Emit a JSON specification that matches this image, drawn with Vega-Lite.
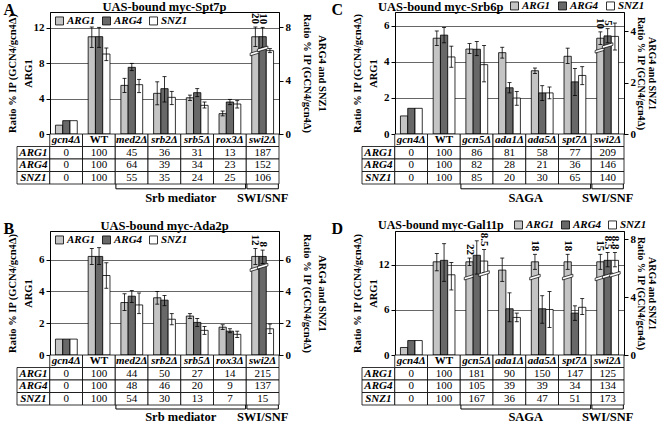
{
"$schema": "https://vega.github.io/schema/vega-lite/v6.json",
"padding": {"left": 3, "right": 0, "top": 0, "bottom": 0},
"background": "white",
"config": {
  "font": "Liberation Serif",
  "view": {"stroke": "black", "strokeWidth": 1},
  "title": {"fontSize": 12.5, "fontWeight": "bold", "color": "black", "frame": "group", "offset": -1},
  "axis": {"labelFontSize": 11, "labelFontWeight": "bold", "labelColor": "black", "tickColor": "black", "tickSize": 4, "labelPadding": 2, "domainColor": "black", "titleFontSize": 10.5, "titleFontWeight": "bold", "titleColor": "black", "titlePadding": 1, "gridColor": "#404040", "gridWidth": 0.8, "titleLineHeight": 16},
  "axisLeft": {"minExtent": 16, "maxExtent": 16},
  "axisRight": {"minExtent": 12, "maxExtent": 12, "titlePadding": 10, "titleLineHeight": 15},
  "legend": {"labelFontSize": 11, "labelFontWeight": "bold", "labelFontStyle": "italic", "labelColor": "black", "symbolType": "square", "symbolStrokeColor": "black", "symbolStrokeWidth": 0.8, "symbolSize": 64, "columnPadding": 4, "labelOffset": 2, "padding": 0},
  "concat": {"spacing": 10}
},
"datasets": {
"bars": [
{"p":"A","g":"ARG1","c":"gcn4Δ","v":1.0},
{"p":"A","g":"ARG1","c":"WT","v":11.0,"lo":9.8,"hi":12.1},
{"p":"A","g":"ARG1","c":"med2Δ","v":5.5,"lo":4.7,"hi":6.3},
{"p":"A","g":"ARG1","c":"srb2Δ","v":4.6,"lo":3.3,"hi":5.9},
{"p":"A","g":"ARG1","c":"srb5Δ","v":4.1,"lo":3.8,"hi":4.4},
{"p":"A","g":"ARG1","c":"rox3Δ","v":2.3,"lo":2.05,"hi":2.6},
{"p":"A","g":"ARG1","c":"swi2Δ","v":11.0,"lo":9.9,"hi":12.1,"brk":9.2,"lab":"20"},
{"p":"A","g":"ARG4","c":"gcn4Δ","v":1.0},
{"p":"A","g":"ARG4","c":"WT","v":7.3,"lo":6.5,"hi":8.0},
{"p":"A","g":"ARG4","c":"med2Δ","v":5.0,"lo":4.75,"hi":5.3},
{"p":"A","g":"ARG4","c":"srb2Δ","v":3.4,"lo":2.4,"hi":4.3},
{"p":"A","g":"ARG4","c":"srb5Δ","v":3.1,"lo":2.8,"hi":3.4},
{"p":"A","g":"ARG4","c":"rox3Δ","v":2.4,"lo":2.2,"hi":2.6},
{"p":"A","g":"ARG4","c":"swi2Δ","v":7.3,"lo":6.5,"hi":8.0,"brk":6.4,"lab":"10"},
{"p":"A","g":"SNZ1","c":"gcn4Δ","v":1.0},
{"p":"A","g":"SNZ1","c":"WT","v":6.0,"lo":5.5,"hi":6.45},
{"p":"A","g":"SNZ1","c":"med2Δ","v":3.7,"lo":3.1,"hi":4.1},
{"p":"A","g":"SNZ1","c":"srb2Δ","v":2.75,"lo":2.2,"hi":3.2},
{"p":"A","g":"SNZ1","c":"srb5Δ","v":2.15,"lo":1.95,"hi":2.4},
{"p":"A","g":"SNZ1","c":"rox3Δ","v":2.25,"lo":1.95,"hi":2.5},
{"p":"A","g":"SNZ1","c":"swi2Δ","v":6.25,"lo":6.1,"hi":6.4},
{"p":"B","g":"ARG1","c":"gcn4Δ","v":1.0},
{"p":"B","g":"ARG1","c":"WT","v":6.2,"lo":5.7,"hi":6.7},
{"p":"B","g":"ARG1","c":"med2Δ","v":3.3,"lo":2.8,"hi":3.85},
{"p":"B","g":"ARG1","c":"srb2Δ","v":3.6,"lo":3.2,"hi":4.0},
{"p":"B","g":"ARG1","c":"srb5Δ","v":2.45,"lo":2.3,"hi":2.6},
{"p":"B","g":"ARG1","c":"rox3Δ","v":1.75,"lo":1.6,"hi":1.9},
{"p":"B","g":"ARG1","c":"swi2Δ","v":6.2,"lo":5.7,"hi":6.7,"brk":5.45,"lab":"12"},
{"p":"B","g":"ARG4","c":"gcn4Δ","v":1.0},
{"p":"B","g":"ARG4","c":"WT","v":6.2,"lo":5.7,"hi":6.75},
{"p":"B","g":"ARG4","c":"med2Δ","v":3.7,"lo":3.3,"hi":4.05},
{"p":"B","g":"ARG4","c":"srb2Δ","v":3.45,"lo":3.1,"hi":3.75},
{"p":"B","g":"ARG4","c":"srb5Δ","v":2.05,"lo":1.8,"hi":2.3},
{"p":"B","g":"ARG4","c":"rox3Δ","v":1.5,"lo":1.4,"hi":1.65},
{"p":"B","g":"ARG4","c":"swi2Δ","v":6.2,"lo":5.75,"hi":6.6,"brk":5.6,"lab":"8"},
{"p":"B","g":"SNZ1","c":"gcn4Δ","v":1.0},
{"p":"B","g":"SNZ1","c":"WT","v":5.0,"lo":4.2,"hi":5.8},
{"p":"B","g":"SNZ1","c":"med2Δ","v":3.15,"lo":2.6,"hi":3.9},
{"p":"B","g":"SNZ1","c":"srb2Δ","v":2.25,"lo":1.9,"hi":2.6},
{"p":"B","g":"SNZ1","c":"srb5Δ","v":1.55,"lo":1.3,"hi":1.8},
{"p":"B","g":"SNZ1","c":"rox3Δ","v":1.3,"lo":1.1,"hi":1.5},
{"p":"B","g":"SNZ1","c":"swi2Δ","v":1.65,"lo":1.35,"hi":1.95},
{"p":"C","g":"ARG1","c":"gcn4Δ","v":1.0},
{"p":"C","g":"ARG1","c":"WT","v":5.3,"lo":4.9,"hi":5.7},
{"p":"C","g":"ARG1","c":"gcn5Δ","v":4.7,"lo":4.45,"hi":5.0},
{"p":"C","g":"ARG1","c":"ada1Δ","v":4.5,"lo":4.2,"hi":4.8},
{"p":"C","g":"ARG1","c":"ada5Δ","v":3.5,"lo":3.35,"hi":3.65},
{"p":"C","g":"ARG1","c":"spt7Δ","v":4.3,"lo":3.9,"hi":4.75},
{"p":"C","g":"ARG1","c":"swi2Δ","v":5.3,"lo":4.95,"hi":5.65,"brk":4.65,"lab":"10"},
{"p":"C","g":"ARG4","c":"gcn4Δ","v":1.0},
{"p":"C","g":"ARG4","c":"WT","v":3.85,"lo":3.55,"hi":4.15},
{"p":"C","g":"ARG4","c":"gcn5Δ","v":3.3,"lo":3.05,"hi":3.6},
{"p":"C","g":"ARG4","c":"ada1Δ","v":1.8,"lo":1.6,"hi":2.0},
{"p":"C","g":"ARG4","c":"ada5Δ","v":1.6,"lo":1.3,"hi":1.88},
{"p":"C","g":"ARG4","c":"spt7Δ","v":2.03,"lo":1.5,"hi":2.55},
{"p":"C","g":"ARG4","c":"swi2Δ","v":3.82,"lo":3.55,"hi":4.1,"brk":3.45,"lab":"5"},
{"p":"C","g":"SNZ1","c":"gcn4Δ","v":1.0},
{"p":"C","g":"SNZ1","c":"WT","v":3.0,"lo":2.6,"hi":3.42},
{"p":"C","g":"SNZ1","c":"gcn5Δ","v":2.7,"lo":2.03,"hi":3.45},
{"p":"C","g":"SNZ1","c":"ada1Δ","v":1.4,"lo":1.12,"hi":1.65},
{"p":"C","g":"SNZ1","c":"ada5Δ","v":1.6,"lo":1.37,"hi":1.83},
{"p":"C","g":"SNZ1","c":"spt7Δ","v":2.28,"lo":1.92,"hi":2.62},
{"p":"C","g":"SNZ1","c":"swi2Δ","v":3.8,"lo":3.27,"hi":4.32},
{"p":"D","g":"ARG1","c":"gcn4Δ","v":1.0},
{"p":"D","g":"ARG1","c":"WT","v":12.4,"lo":11.2,"hi":13.5},
{"p":"D","g":"ARG1","c":"gcn5Δ","v":12.4,"lo":11.9,"hi":12.9,"brk":10.4,"lab":"22"},
{"p":"D","g":"ARG1","c":"ada1Δ","v":11.3,"lo":9.8,"hi":12.9},
{"p":"D","g":"ARG1","c":"ada5Δ","v":12.4,"lo":11.4,"hi":13.4,"brk":10.4,"lab":"18"},
{"p":"D","g":"ARG1","c":"spt7Δ","v":12.4,"lo":11.4,"hi":13.4,"brk":10.4,"lab":"18"},
{"p":"D","g":"ARG1","c":"swi2Δ","v":12.4,"lo":11.4,"hi":13.4,"brk":10.3,"lab":"15"},
{"p":"D","g":"ARG4","c":"gcn4Δ","v":1.0},
{"p":"D","g":"ARG4","c":"WT","v":6.55,"lo":5.1,"hi":7.7},
{"p":"D","g":"ARG4","c":"gcn5Δ","v":6.9,"lo":5.6,"hi":7.9},
{"p":"D","g":"ARG4","c":"ada1Δ","v":3.2,"lo":2.3,"hi":4.3},
{"p":"D","g":"ARG4","c":"ada5Δ","v":3.2,"lo":2.2,"hi":4.1},
{"p":"D","g":"ARG4","c":"spt7Δ","v":2.9,"lo":2.4,"hi":3.4},
{"p":"D","g":"ARG4","c":"swi2Δ","v":6.55,"lo":6.1,"hi":7.1,"brk":5.5,"lab":"8.5"},
{"p":"D","g":"SNZ1","c":"gcn4Δ","v":1.0},
{"p":"D","g":"SNZ1","c":"WT","v":5.55,"lo":4.5,"hi":6.4},
{"p":"D","g":"SNZ1","c":"gcn5Δ","v":6.5,"lo":5.7,"hi":7.3,"brk":5.65,"lab":"8.5"},
{"p":"D","g":"SNZ1","c":"ada1Δ","v":2.6,"lo":2.3,"hi":2.9},
{"p":"D","g":"SNZ1","c":"ada5Δ","v":3.15,"lo":1.9,"hi":4.4},
{"p":"D","g":"SNZ1","c":"spt7Δ","v":3.3,"lo":2.8,"hi":3.9},
{"p":"D","g":"SNZ1","c":"swi2Δ","v":6.55,"lo":6.1,"hi":7.1,"brk":5.6,"lab":"8.8"}
],
"table": [
{"p":"A","c":"gcn4Δ","r":"hdr","t":"gcn4Δ"},{"p":"A","c":"WT","r":"hdr","t":"WT"},{"p":"A","c":"med2Δ","r":"hdr","t":"med2Δ"},{"p":"A","c":"srb2Δ","r":"hdr","t":"srb2Δ"},{"p":"A","c":"srb5Δ","r":"hdr","t":"srb5Δ"},{"p":"A","c":"rox3Δ","r":"hdr","t":"rox3Δ"},{"p":"A","c":"swi2Δ","r":"hdr","t":"swi2Δ"},
{"p":"A","c":"_lab","r":"ARG1","t":"ARG1"},{"p":"A","c":"gcn4Δ","r":"ARG1","t":"0"},{"p":"A","c":"WT","r":"ARG1","t":"100"},{"p":"A","c":"med2Δ","r":"ARG1","t":"45"},{"p":"A","c":"srb2Δ","r":"ARG1","t":"36"},{"p":"A","c":"srb5Δ","r":"ARG1","t":"31"},{"p":"A","c":"rox3Δ","r":"ARG1","t":"13"},{"p":"A","c":"swi2Δ","r":"ARG1","t":"187"},
{"p":"A","c":"_lab","r":"ARG4","t":"ARG4"},{"p":"A","c":"gcn4Δ","r":"ARG4","t":"0"},{"p":"A","c":"WT","r":"ARG4","t":"100"},{"p":"A","c":"med2Δ","r":"ARG4","t":"64"},{"p":"A","c":"srb2Δ","r":"ARG4","t":"39"},{"p":"A","c":"srb5Δ","r":"ARG4","t":"34"},{"p":"A","c":"rox3Δ","r":"ARG4","t":"23"},{"p":"A","c":"swi2Δ","r":"ARG4","t":"152"},
{"p":"A","c":"_lab","r":"SNZ1","t":"SNZ1"},{"p":"A","c":"gcn4Δ","r":"SNZ1","t":"0"},{"p":"A","c":"WT","r":"SNZ1","t":"100"},{"p":"A","c":"med2Δ","r":"SNZ1","t":"55"},{"p":"A","c":"srb2Δ","r":"SNZ1","t":"35"},{"p":"A","c":"srb5Δ","r":"SNZ1","t":"24"},{"p":"A","c":"rox3Δ","r":"SNZ1","t":"25"},{"p":"A","c":"swi2Δ","r":"SNZ1","t":"106"},
{"p":"B","c":"gcn4Δ","r":"hdr","t":"gcn4Δ"},{"p":"B","c":"WT","r":"hdr","t":"WT"},{"p":"B","c":"med2Δ","r":"hdr","t":"med2Δ"},{"p":"B","c":"srb2Δ","r":"hdr","t":"srb2Δ"},{"p":"B","c":"srb5Δ","r":"hdr","t":"srb5Δ"},{"p":"B","c":"rox3Δ","r":"hdr","t":"rox3Δ"},{"p":"B","c":"swi2Δ","r":"hdr","t":"swi2Δ"},
{"p":"B","c":"_lab","r":"ARG1","t":"ARG1"},{"p":"B","c":"gcn4Δ","r":"ARG1","t":"0"},{"p":"B","c":"WT","r":"ARG1","t":"100"},{"p":"B","c":"med2Δ","r":"ARG1","t":"44"},{"p":"B","c":"srb2Δ","r":"ARG1","t":"50"},{"p":"B","c":"srb5Δ","r":"ARG1","t":"27"},{"p":"B","c":"rox3Δ","r":"ARG1","t":"14"},{"p":"B","c":"swi2Δ","r":"ARG1","t":"215"},
{"p":"B","c":"_lab","r":"ARG4","t":"ARG4"},{"p":"B","c":"gcn4Δ","r":"ARG4","t":"0"},{"p":"B","c":"WT","r":"ARG4","t":"100"},{"p":"B","c":"med2Δ","r":"ARG4","t":"48"},{"p":"B","c":"srb2Δ","r":"ARG4","t":"46"},{"p":"B","c":"srb5Δ","r":"ARG4","t":"20"},{"p":"B","c":"rox3Δ","r":"ARG4","t":"9"},{"p":"B","c":"swi2Δ","r":"ARG4","t":"137"},
{"p":"B","c":"_lab","r":"SNZ1","t":"SNZ1"},{"p":"B","c":"gcn4Δ","r":"SNZ1","t":"0"},{"p":"B","c":"WT","r":"SNZ1","t":"100"},{"p":"B","c":"med2Δ","r":"SNZ1","t":"54"},{"p":"B","c":"srb2Δ","r":"SNZ1","t":"30"},{"p":"B","c":"srb5Δ","r":"SNZ1","t":"13"},{"p":"B","c":"rox3Δ","r":"SNZ1","t":"7"},{"p":"B","c":"swi2Δ","r":"SNZ1","t":"15"},
{"p":"C","c":"gcn4Δ","r":"hdr","t":"gcn4Δ"},{"p":"C","c":"WT","r":"hdr","t":"WT"},{"p":"C","c":"gcn5Δ","r":"hdr","t":"gcn5Δ"},{"p":"C","c":"ada1Δ","r":"hdr","t":"ada1Δ"},{"p":"C","c":"ada5Δ","r":"hdr","t":"ada5Δ"},{"p":"C","c":"spt7Δ","r":"hdr","t":"spt7Δ"},{"p":"C","c":"swi2Δ","r":"hdr","t":"swi2Δ"},
{"p":"C","c":"_lab","r":"ARG1","t":"ARG1"},{"p":"C","c":"gcn4Δ","r":"ARG1","t":"0"},{"p":"C","c":"WT","r":"ARG1","t":"100"},{"p":"C","c":"gcn5Δ","r":"ARG1","t":"86"},{"p":"C","c":"ada1Δ","r":"ARG1","t":"81"},{"p":"C","c":"ada5Δ","r":"ARG1","t":"58"},{"p":"C","c":"spt7Δ","r":"ARG1","t":"77"},{"p":"C","c":"swi2Δ","r":"ARG1","t":"209"},
{"p":"C","c":"_lab","r":"ARG4","t":"ARG4"},{"p":"C","c":"gcn4Δ","r":"ARG4","t":"0"},{"p":"C","c":"WT","r":"ARG4","t":"100"},{"p":"C","c":"gcn5Δ","r":"ARG4","t":"82"},{"p":"C","c":"ada1Δ","r":"ARG4","t":"28"},{"p":"C","c":"ada5Δ","r":"ARG4","t":"21"},{"p":"C","c":"spt7Δ","r":"ARG4","t":"36"},{"p":"C","c":"swi2Δ","r":"ARG4","t":"146"},
{"p":"C","c":"_lab","r":"SNZ1","t":"SNZ1"},{"p":"C","c":"gcn4Δ","r":"SNZ1","t":"0"},{"p":"C","c":"WT","r":"SNZ1","t":"100"},{"p":"C","c":"gcn5Δ","r":"SNZ1","t":"85"},{"p":"C","c":"ada1Δ","r":"SNZ1","t":"20"},{"p":"C","c":"ada5Δ","r":"SNZ1","t":"30"},{"p":"C","c":"spt7Δ","r":"SNZ1","t":"65"},{"p":"C","c":"swi2Δ","r":"SNZ1","t":"140"},
{"p":"D","c":"gcn4Δ","r":"hdr","t":"gcn4Δ"},{"p":"D","c":"WT","r":"hdr","t":"WT"},{"p":"D","c":"gcn5Δ","r":"hdr","t":"gcn5Δ"},{"p":"D","c":"ada1Δ","r":"hdr","t":"ada1Δ"},{"p":"D","c":"ada5Δ","r":"hdr","t":"ada5Δ"},{"p":"D","c":"spt7Δ","r":"hdr","t":"spt7Δ"},{"p":"D","c":"swi2Δ","r":"hdr","t":"swi2Δ"},
{"p":"D","c":"_lab","r":"ARG1","t":"ARG1"},{"p":"D","c":"gcn4Δ","r":"ARG1","t":"0"},{"p":"D","c":"WT","r":"ARG1","t":"100"},{"p":"D","c":"gcn5Δ","r":"ARG1","t":"181"},{"p":"D","c":"ada1Δ","r":"ARG1","t":"90"},{"p":"D","c":"ada5Δ","r":"ARG1","t":"150"},{"p":"D","c":"spt7Δ","r":"ARG1","t":"147"},{"p":"D","c":"swi2Δ","r":"ARG1","t":"125"},
{"p":"D","c":"_lab","r":"ARG4","t":"ARG4"},{"p":"D","c":"gcn4Δ","r":"ARG4","t":"0"},{"p":"D","c":"WT","r":"ARG4","t":"100"},{"p":"D","c":"gcn5Δ","r":"ARG4","t":"105"},{"p":"D","c":"ada1Δ","r":"ARG4","t":"39"},{"p":"D","c":"ada5Δ","r":"ARG4","t":"39"},{"p":"D","c":"spt7Δ","r":"ARG4","t":"34"},{"p":"D","c":"swi2Δ","r":"ARG4","t":"134"},
{"p":"D","c":"_lab","r":"SNZ1","t":"SNZ1"},{"p":"D","c":"gcn4Δ","r":"SNZ1","t":"0"},{"p":"D","c":"WT","r":"SNZ1","t":"100"},{"p":"D","c":"gcn5Δ","r":"SNZ1","t":"167"},{"p":"D","c":"ada1Δ","r":"SNZ1","t":"36"},{"p":"D","c":"ada5Δ","r":"SNZ1","t":"47"},{"p":"D","c":"spt7Δ","r":"SNZ1","t":"51"},{"p":"D","c":"swi2Δ","r":"SNZ1","t":"173"}
],
"groups": [
{"p":"A","grp":"Srb mediator","from":"med2Δ","to":"rox3Δ","at":"srb5Δ"},
{"p":"A","grp":"SWI/SNF","from":"swi2Δ","to":"swi2Δ","at":"swi2Δ"},
{"p":"B","grp":"Srb mediator","from":"med2Δ","to":"rox3Δ","at":"srb5Δ"},
{"p":"B","grp":"SWI/SNF","from":"swi2Δ","to":"swi2Δ","at":"swi2Δ"},
{"p":"C","grp":"SAGA","from":"gcn5Δ","to":"spt7Δ","at":"ada5Δ"},
{"p":"C","grp":"SWI/SNF","from":"swi2Δ","to":"swi2Δ","at":"swi2Δ"},
{"p":"D","grp":"SAGA","from":"gcn5Δ","to":"spt7Δ","at":"ada5Δ"},
{"p":"D","grp":"SWI/SNF","from":"swi2Δ","to":"swi2Δ","at":"swi2Δ"}
]
},
"resolve": {"scale": {"fill": "independent"}, "legend": {"fill": "independent"}},
"spacing": 13,
"vconcat": [
{"resolve": {"scale": {"fill": "independent"}, "legend": {"fill": "independent"}},
 "spacing": 4,
 "hconcat": [
{"title": {"text": "A", "anchor": "start", "frame": "bounds", "fontSize": 16, "offset": -18, "dx": -3},
 "vconcat": [{
 "width": 229, "height": 122,
 "title": {"text": "UAS-bound myc-Spt7p", "anchor": "middle"},
 "layer": [
  {"layer": [
    {"data": {"name": "bars"}, "transform": [{"filter": "datum.p == 'A' && datum.g == 'ARG1'"}],
     "encoding": {"x": {"field": "c", "type": "nominal", "scale": {"domain": ["gcn4Δ","WT","med2Δ","srb2Δ","srb5Δ","rox3Δ","swi2Δ"], "paddingInner": 0, "paddingOuter": 0}, "axis": null},
                  "xOffset": {"field": "g", "type": "nominal", "scale": {"domain": ["ARG1","ARG4","SNZ1"], "paddingInner": 0, "paddingOuter": 0.75}}},
     "layer": [
      {"mark": {"type": "bar", "stroke": "black", "strokeWidth": 0.8, "opacity": 1},
       "encoding": {"y": {"field": "v", "type": "quantitative", "stack": null, "scale": {"domain": [0, 13.8], "nice": false}, "axis": {"orient": "left", "values": [0,2,4,6,8,10,12], "grid": true, "title": ["Ratio % IP (GCN4/gcn4Δ)", "ARG1"]}},
                    "fill": {"field": "g", "type": "nominal", "scale": {"domain": ["ARG1","ARG4","SNZ1"], "range": ["#c4c4c4","#686868","#ffffff"]}, "legend": {"orient": "none", "legendX": 4, "legendY": 3, "direction": "horizontal", "title": null}}}},
      {"transform": [{"filter": {"field": "lo", "valid": true}}], "mark": {"type": "rule", "color": "black", "strokeWidth": 0.8}, "encoding": {"y": {"field": "lo", "type": "quantitative"}, "y2": {"field": "hi"}}},
      {"transform": [{"filter": {"field": "lo", "valid": true}}], "mark": {"type": "tick", "color": "black", "thickness": 0.8, "size": 4, "opacity": 1}, "encoding": {"y": {"field": "lo", "type": "quantitative"}}},
      {"transform": [{"filter": {"field": "hi", "valid": true}}], "mark": {"type": "tick", "color": "black", "thickness": 0.8, "size": 4, "opacity": 1}, "encoding": {"y": {"field": "hi", "type": "quantitative"}}},
      {"transform": [{"filter": {"field": "brk", "valid": true}}], "mark": {"type": "point", "shape": "M -1 0.1 L 1 -0.5 L 1 0 L -1 0.6 Z", "filled": true, "fill": "white", "stroke": "black", "strokeWidth": 0.7, "size": 110, "opacity": 1}, "encoding": {"y": {"field": "brk", "type": "quantitative"}}},
      {"transform": [{"filter": {"field": "lab", "valid": true}}], "mark": {"type": "text", "angle": 90, "align": "right", "baseline": "middle", "dx": -3, "fontWeight": "bold", "fontSize": 11}, "encoding": {"y": {"field": "hi", "type": "quantitative"}, "text": {"field": "lab"}}}
     ]},
    {"data": {"name": "bars"}, "transform": [{"filter": "datum.p == 'A' && datum.g != 'ARG1'"}],
     "encoding": {"x": {"field": "c", "type": "nominal", "axis": null},
                  "xOffset": {"field": "g", "type": "nominal"}},
     "layer": [
      {"mark": {"type": "bar", "stroke": "black", "strokeWidth": 0.8, "opacity": 1},
       "encoding": {"y": {"field": "v", "type": "quantitative", "stack": null, "scale": {"domain": [0, 9.15], "nice": false}, "axis": {"orient": "right", "values": [0,1,2,3,4,5,6,7,8], "labelExpr": "datum.value % 2 == 0 ? datum.label : ''", "grid": false, "title": ["ARG4 and SNZ1", "Ratio % IP (GCN4/gcn4Δ)"]}},
                    "fill": {"field": "g", "type": "nominal"}}},
      {"transform": [{"filter": {"field": "lo", "valid": true}}], "mark": {"type": "rule", "color": "black", "strokeWidth": 0.8}, "encoding": {"y": {"field": "lo", "type": "quantitative"}, "y2": {"field": "hi"}}},
      {"transform": [{"filter": {"field": "lo", "valid": true}}], "mark": {"type": "tick", "color": "black", "thickness": 0.8, "size": 4, "opacity": 1}, "encoding": {"y": {"field": "lo", "type": "quantitative"}}},
      {"transform": [{"filter": {"field": "hi", "valid": true}}], "mark": {"type": "tick", "color": "black", "thickness": 0.8, "size": 4, "opacity": 1}, "encoding": {"y": {"field": "hi", "type": "quantitative"}}},
      {"transform": [{"filter": {"field": "brk", "valid": true}}], "mark": {"type": "point", "shape": "M -1 0.1 L 1 -0.5 L 1 0 L -1 0.6 Z", "filled": true, "fill": "white", "stroke": "black", "strokeWidth": 0.7, "size": 110, "opacity": 1}, "encoding": {"y": {"field": "brk", "type": "quantitative"}}},
      {"transform": [{"filter": {"field": "lab", "valid": true}}], "mark": {"type": "text", "angle": 90, "align": "right", "baseline": "middle", "dx": -3, "fontWeight": "bold", "fontSize": 11}, "encoding": {"y": {"field": "hi", "type": "quantitative"}, "text": {"field": "lab"}}}
     ]}
   ],
   "resolve": {"scale": {"y": "independent"}}},
  {"layer": [
    {"data": {"name": "table"}, "transform": [{"filter": "datum.p == 'A'"}],
     "encoding": {"x": {"field": "c", "type": "nominal", "scale": {"domain": ["_lab","gcn4Δ","WT","med2Δ","srb2Δ","srb5Δ","rox3Δ","swi2Δ"], "range": [-33, 229], "paddingInner": 0, "paddingOuter": 0}, "axis": null},
                  "y": {"field": "r", "type": "nominal", "scale": {"domain": ["hdr","ARG1","ARG4","SNZ1"], "range": [122, 172], "paddingInner": 0, "paddingOuter": 0}, "axis": null}},
     "layer": [
      {"mark": {"type": "rect", "fill": "white", "stroke": "black", "strokeWidth": 0.8}},
      {"mark": {"type": "text", "fontSize": 11, "color": "black", "fontStyle": {"expr": "datum.c == '_lab' || (datum.r == 'hdr' && datum.c != 'WT') ? 'italic' : 'normal'"}, "fontWeight": {"expr": "datum.c == '_lab' || datum.r == 'hdr' ? 'bold' : 'normal'"}}, "encoding": {"text": {"field": "t"}}}
     ]},
    {"data": {"name": "groups"}, "transform": [{"filter": "datum.p == 'A'"}],
     "layer": [
      {"mark": {"type": "rule", "color": "black", "strokeWidth": 1}, "encoding": {"x": {"field": "from", "type": "nominal", "bandPosition": 0.02}, "x2": {"field": "to", "bandPosition": 0.98}, "y": {"datum": 0.2, "type": "quantitative", "scale": {"domain": [0, 1], "range": [172, 196], "nice": false, "zero": false}, "axis": null}}},
      {"mark": {"type": "rule", "color": "black", "strokeWidth": 1}, "encoding": {"x": {"field": "from", "type": "nominal", "bandPosition": 0.02}, "y": {"datum": 0, "type": "quantitative"}, "y2": {"datum": 0.2}}},
      {"mark": {"type": "rule", "color": "black", "strokeWidth": 1}, "encoding": {"x": {"field": "to", "type": "nominal", "bandPosition": 0.98}, "y": {"datum": 0, "type": "quantitative"}, "y2": {"datum": 0.2}}},
      {"transform": [{"filter": "datum.from != datum.to"}], "mark": {"type": "text", "fontSize": 12.5, "fontWeight": "bold", "baseline": "alphabetic"}, "encoding": {"x": {"field": "at", "type": "nominal", "bandPosition": 0}, "y": {"datum": 0.75, "type": "quantitative"}, "text": {"field": "grp"}}},
      {"transform": [{"filter": "datum.from == datum.to"}], "mark": {"type": "text", "fontSize": 12.5, "fontWeight": "bold", "baseline": "alphabetic"}, "encoding": {"x": {"field": "at", "type": "nominal", "bandPosition": 0.5}, "y": {"datum": 0.75, "type": "quantitative"}, "text": {"field": "grp"}}}
     ]}
   ],
   "resolve": {"scale": {"y": "independent"}}}
 ],
 "resolve": {"scale": {"x": "independent", "y": "independent"}}
 }]},
{"title": {"text": "C", "anchor": "start", "frame": "bounds", "fontSize": 16, "offset": -18, "dx": -20},
 "vconcat": [{
 "width": 229, "height": 122,
 "title": {"text": "UAS-bound myc-Srb6p", "anchor": "start", "dx": -17},
 "layer": [
  {"layer": [
    {"data": {"name": "bars"}, "transform": [{"filter": "datum.p == 'C' && datum.g == 'ARG1'"}],
     "encoding": {"x": {"field": "c", "type": "nominal", "scale": {"domain": ["gcn4Δ","WT","gcn5Δ","ada1Δ","ada5Δ","spt7Δ","swi2Δ"], "paddingInner": 0, "paddingOuter": 0}, "axis": null},
                  "xOffset": {"field": "g", "type": "nominal", "scale": {"domain": ["ARG1","ARG4","SNZ1"], "paddingInner": 0, "paddingOuter": 0.75}}},
     "layer": [
      {"mark": {"type": "bar", "stroke": "black", "strokeWidth": 0.8, "opacity": 1},
       "encoding": {"y": {"field": "v", "type": "quantitative", "stack": null, "scale": {"domain": [0, 6.75], "nice": false}, "axis": {"orient": "left", "values": [0,1,2,3,4,5,6], "grid": true, "title": ["Ratio % IP (GCN4/gcn4Δ)", "ARG1"]}},
                    "fill": {"field": "g", "type": "nominal", "scale": {"domain": ["ARG1","ARG4","SNZ1"], "range": ["#c4c4c4","#686868","#ffffff"]}, "legend": {"orient": "none", "legendX": 114, "legendY": -12, "direction": "horizontal", "title": null, "columnPadding": 5}}}},
      {"transform": [{"filter": {"field": "lo", "valid": true}}], "mark": {"type": "rule", "color": "black", "strokeWidth": 0.8}, "encoding": {"y": {"field": "lo", "type": "quantitative"}, "y2": {"field": "hi"}}},
      {"transform": [{"filter": {"field": "lo", "valid": true}}], "mark": {"type": "tick", "color": "black", "thickness": 0.8, "size": 4, "opacity": 1}, "encoding": {"y": {"field": "lo", "type": "quantitative"}}},
      {"transform": [{"filter": {"field": "hi", "valid": true}}], "mark": {"type": "tick", "color": "black", "thickness": 0.8, "size": 4, "opacity": 1}, "encoding": {"y": {"field": "hi", "type": "quantitative"}}},
      {"transform": [{"filter": {"field": "brk", "valid": true}}], "mark": {"type": "point", "shape": "M -1 0.1 L 1 -0.5 L 1 0 L -1 0.6 Z", "filled": true, "fill": "white", "stroke": "black", "strokeWidth": 0.7, "size": 110, "opacity": 1}, "encoding": {"y": {"field": "brk", "type": "quantitative"}}},
      {"transform": [{"filter": {"field": "lab", "valid": true}}], "mark": {"type": "text", "angle": 90, "align": "right", "baseline": "middle", "dx": -3, "fontWeight": "bold", "fontSize": 11}, "encoding": {"y": {"field": "hi", "type": "quantitative"}, "text": {"field": "lab"}}}
     ]},
    {"data": {"name": "bars"}, "transform": [{"filter": "datum.p == 'C' && datum.g != 'ARG1'"}],
     "encoding": {"x": {"field": "c", "type": "nominal", "axis": null},
                  "xOffset": {"field": "g", "type": "nominal"}},
     "layer": [
      {"mark": {"type": "bar", "stroke": "black", "strokeWidth": 0.8, "opacity": 1},
       "encoding": {"y": {"field": "v", "type": "quantitative", "stack": null, "scale": {"domain": [0, 4.75], "nice": false}, "axis": {"orient": "right", "values": [0,1,2,3,4], "grid": false, "minExtent": 11, "maxExtent": 11, "titlePadding": 0, "titleLineHeight": 11, "titleFontSize": 10, "title": ["ARG4 and SNZ1", "Ratio % IP (GCN4/gcn4Δ)"]}},
                    "fill": {"field": "g", "type": "nominal"}}},
      {"transform": [{"filter": {"field": "lo", "valid": true}}], "mark": {"type": "rule", "color": "black", "strokeWidth": 0.8}, "encoding": {"y": {"field": "lo", "type": "quantitative"}, "y2": {"field": "hi"}}},
      {"transform": [{"filter": {"field": "lo", "valid": true}}], "mark": {"type": "tick", "color": "black", "thickness": 0.8, "size": 4, "opacity": 1}, "encoding": {"y": {"field": "lo", "type": "quantitative"}}},
      {"transform": [{"filter": {"field": "hi", "valid": true}}], "mark": {"type": "tick", "color": "black", "thickness": 0.8, "size": 4, "opacity": 1}, "encoding": {"y": {"field": "hi", "type": "quantitative"}}},
      {"transform": [{"filter": {"field": "brk", "valid": true}}], "mark": {"type": "point", "shape": "M -1 0.1 L 1 -0.5 L 1 0 L -1 0.6 Z", "filled": true, "fill": "white", "stroke": "black", "strokeWidth": 0.7, "size": 110, "opacity": 1}, "encoding": {"y": {"field": "brk", "type": "quantitative"}}},
      {"transform": [{"filter": {"field": "lab", "valid": true}}], "mark": {"type": "text", "angle": 90, "align": "right", "baseline": "middle", "dx": -3, "fontWeight": "bold", "fontSize": 11}, "encoding": {"y": {"field": "hi", "type": "quantitative"}, "text": {"field": "lab"}}}
     ]}
   ],
   "resolve": {"scale": {"y": "independent"}}},
  {"layer": [
    {"data": {"name": "table"}, "transform": [{"filter": "datum.p == 'C'"}],
     "encoding": {"x": {"field": "c", "type": "nominal", "scale": {"domain": ["_lab","gcn4Δ","WT","gcn5Δ","ada1Δ","ada5Δ","spt7Δ","swi2Δ"], "range": [-33, 229], "paddingInner": 0, "paddingOuter": 0}, "axis": null},
                  "y": {"field": "r", "type": "nominal", "scale": {"domain": ["hdr","ARG1","ARG4","SNZ1"], "range": [122, 172], "paddingInner": 0, "paddingOuter": 0}, "axis": null}},
     "layer": [
      {"mark": {"type": "rect", "fill": "white", "stroke": "black", "strokeWidth": 0.8}},
      {"mark": {"type": "text", "fontSize": 11, "color": "black", "fontStyle": {"expr": "datum.c == '_lab' || (datum.r == 'hdr' && datum.c != 'WT') ? 'italic' : 'normal'"}, "fontWeight": {"expr": "datum.c == '_lab' || datum.r == 'hdr' ? 'bold' : 'normal'"}}, "encoding": {"text": {"field": "t"}}}
     ]},
    {"data": {"name": "groups"}, "transform": [{"filter": "datum.p == 'C'"}],
     "layer": [
      {"mark": {"type": "rule", "color": "black", "strokeWidth": 1}, "encoding": {"x": {"field": "from", "type": "nominal", "bandPosition": 0.02}, "x2": {"field": "to", "bandPosition": 0.98}, "y": {"datum": 0.2, "type": "quantitative", "scale": {"domain": [0, 1], "range": [172, 196], "nice": false, "zero": false}, "axis": null}}},
      {"mark": {"type": "rule", "color": "black", "strokeWidth": 1}, "encoding": {"x": {"field": "from", "type": "nominal", "bandPosition": 0.02}, "y": {"datum": 0, "type": "quantitative"}, "y2": {"datum": 0.2}}},
      {"mark": {"type": "rule", "color": "black", "strokeWidth": 1}, "encoding": {"x": {"field": "to", "type": "nominal", "bandPosition": 0.98}, "y": {"datum": 0, "type": "quantitative"}, "y2": {"datum": 0.2}}},
      {"transform": [{"filter": "datum.from != datum.to"}], "mark": {"type": "text", "fontSize": 12.5, "fontWeight": "bold", "baseline": "alphabetic"}, "encoding": {"x": {"field": "at", "type": "nominal", "bandPosition": 0}, "y": {"datum": 0.75, "type": "quantitative"}, "text": {"field": "grp"}}},
      {"transform": [{"filter": "datum.from == datum.to"}], "mark": {"type": "text", "fontSize": 12.5, "fontWeight": "bold", "baseline": "alphabetic"}, "encoding": {"x": {"field": "at", "type": "nominal", "bandPosition": 0.5}, "y": {"datum": 0.75, "type": "quantitative"}, "text": {"field": "grp"}}}
     ]}
   ],
   "resolve": {"scale": {"y": "independent"}}}
 ],
 "resolve": {"scale": {"x": "independent", "y": "independent"}}
 }]}
]},
{"resolve": {"scale": {"fill": "independent"}, "legend": {"fill": "independent"}},
 "spacing": 4,
 "hconcat": [
{"title": {"text": "B", "anchor": "start", "frame": "bounds", "fontSize": 16, "offset": -18, "dx": -3},
 "vconcat": [{
 "width": 229, "height": 124,
 "title": {"text": "UAS-bound myc-Ada2p", "anchor": "middle"},
 "layer": [
  {"layer": [
    {"data": {"name": "bars"}, "transform": [{"filter": "datum.p == 'B' && datum.g == 'ARG1'"}],
     "encoding": {"x": {"field": "c", "type": "nominal", "scale": {"domain": ["gcn4Δ","WT","med2Δ","srb2Δ","srb5Δ","rox3Δ","swi2Δ"], "paddingInner": 0, "paddingOuter": 0}, "axis": null},
                  "xOffset": {"field": "g", "type": "nominal", "scale": {"domain": ["ARG1","ARG4","SNZ1"], "paddingInner": 0, "paddingOuter": 0.75}}},
     "layer": [
      {"mark": {"type": "bar", "stroke": "black", "strokeWidth": 0.8, "opacity": 1},
       "encoding": {"y": {"field": "v", "type": "quantitative", "stack": null, "scale": {"domain": [0, 7.8], "nice": false}, "axis": {"orient": "left", "values": [0,1,2,3,4,5,6,7], "grid": true, "title": ["Ratio % IP (GCN4/gcn4Δ)", "ARG1"]}},
                    "fill": {"field": "g", "type": "nominal", "scale": {"domain": ["ARG1","ARG4","SNZ1"], "range": ["#c4c4c4","#686868","#ffffff"]}, "legend": {"orient": "none", "legendX": 4, "legendY": 3, "direction": "horizontal", "title": null}}}},
      {"transform": [{"filter": {"field": "lo", "valid": true}}], "mark": {"type": "rule", "color": "black", "strokeWidth": 0.8}, "encoding": {"y": {"field": "lo", "type": "quantitative"}, "y2": {"field": "hi"}}},
      {"transform": [{"filter": {"field": "lo", "valid": true}}], "mark": {"type": "tick", "color": "black", "thickness": 0.8, "size": 4, "opacity": 1}, "encoding": {"y": {"field": "lo", "type": "quantitative"}}},
      {"transform": [{"filter": {"field": "hi", "valid": true}}], "mark": {"type": "tick", "color": "black", "thickness": 0.8, "size": 4, "opacity": 1}, "encoding": {"y": {"field": "hi", "type": "quantitative"}}},
      {"transform": [{"filter": {"field": "brk", "valid": true}}], "mark": {"type": "point", "shape": "M -1 0.1 L 1 -0.5 L 1 0 L -1 0.6 Z", "filled": true, "fill": "white", "stroke": "black", "strokeWidth": 0.7, "size": 110, "opacity": 1}, "encoding": {"y": {"field": "brk", "type": "quantitative"}}},
      {"transform": [{"filter": {"field": "lab", "valid": true}}], "mark": {"type": "text", "angle": 90, "align": "right", "baseline": "middle", "dx": -3, "fontWeight": "bold", "fontSize": 11}, "encoding": {"y": {"field": "hi", "type": "quantitative"}, "text": {"field": "lab"}}}
     ]},
    {"data": {"name": "bars"}, "transform": [{"filter": "datum.p == 'B' && datum.g != 'ARG1'"}],
     "encoding": {"x": {"field": "c", "type": "nominal", "axis": null},
                  "xOffset": {"field": "g", "type": "nominal"}},
     "layer": [
      {"mark": {"type": "bar", "stroke": "black", "strokeWidth": 0.8, "opacity": 1},
       "encoding": {"y": {"field": "v", "type": "quantitative", "stack": null, "scale": {"domain": [0, 7.8], "nice": false}, "axis": {"orient": "right", "values": [0,1,2,3,4,5,6,7], "grid": false, "title": ["ARG4 and SNZ1", "Ratio % IP (GCN4/gcn4Δ)"]}},
                    "fill": {"field": "g", "type": "nominal"}}},
      {"transform": [{"filter": {"field": "lo", "valid": true}}], "mark": {"type": "rule", "color": "black", "strokeWidth": 0.8}, "encoding": {"y": {"field": "lo", "type": "quantitative"}, "y2": {"field": "hi"}}},
      {"transform": [{"filter": {"field": "lo", "valid": true}}], "mark": {"type": "tick", "color": "black", "thickness": 0.8, "size": 4, "opacity": 1}, "encoding": {"y": {"field": "lo", "type": "quantitative"}}},
      {"transform": [{"filter": {"field": "hi", "valid": true}}], "mark": {"type": "tick", "color": "black", "thickness": 0.8, "size": 4, "opacity": 1}, "encoding": {"y": {"field": "hi", "type": "quantitative"}}},
      {"transform": [{"filter": {"field": "brk", "valid": true}}], "mark": {"type": "point", "shape": "M -1 0.1 L 1 -0.5 L 1 0 L -1 0.6 Z", "filled": true, "fill": "white", "stroke": "black", "strokeWidth": 0.7, "size": 110, "opacity": 1}, "encoding": {"y": {"field": "brk", "type": "quantitative"}}},
      {"transform": [{"filter": {"field": "lab", "valid": true}}], "mark": {"type": "text", "angle": 90, "align": "right", "baseline": "middle", "dx": -3, "fontWeight": "bold", "fontSize": 11}, "encoding": {"y": {"field": "hi", "type": "quantitative"}, "text": {"field": "lab"}}}
     ]}
   ],
   "resolve": {"scale": {"y": "independent"}}},
  {"layer": [
    {"data": {"name": "table"}, "transform": [{"filter": "datum.p == 'B'"}],
     "encoding": {"x": {"field": "c", "type": "nominal", "scale": {"domain": ["_lab","gcn4Δ","WT","med2Δ","srb2Δ","srb5Δ","rox3Δ","swi2Δ"], "range": [-33, 229], "paddingInner": 0, "paddingOuter": 0}, "axis": null},
                  "y": {"field": "r", "type": "nominal", "scale": {"domain": ["hdr","ARG1","ARG4","SNZ1"], "range": [124, 174], "paddingInner": 0, "paddingOuter": 0}, "axis": null}},
     "layer": [
      {"mark": {"type": "rect", "fill": "white", "stroke": "black", "strokeWidth": 0.8}},
      {"mark": {"type": "text", "fontSize": 11, "color": "black", "fontStyle": {"expr": "datum.c == '_lab' || (datum.r == 'hdr' && datum.c != 'WT') ? 'italic' : 'normal'"}, "fontWeight": {"expr": "datum.c == '_lab' || datum.r == 'hdr' ? 'bold' : 'normal'"}}, "encoding": {"text": {"field": "t"}}}
     ]},
    {"data": {"name": "groups"}, "transform": [{"filter": "datum.p == 'B'"}],
     "layer": [
      {"mark": {"type": "rule", "color": "black", "strokeWidth": 1}, "encoding": {"x": {"field": "from", "type": "nominal", "bandPosition": 0.02}, "x2": {"field": "to", "bandPosition": 0.98}, "y": {"datum": 0.2, "type": "quantitative", "scale": {"domain": [0, 1], "range": [174, 194], "nice": false, "zero": false}, "axis": null}}},
      {"mark": {"type": "rule", "color": "black", "strokeWidth": 1}, "encoding": {"x": {"field": "from", "type": "nominal", "bandPosition": 0.02}, "y": {"datum": 0, "type": "quantitative"}, "y2": {"datum": 0.2}}},
      {"mark": {"type": "rule", "color": "black", "strokeWidth": 1}, "encoding": {"x": {"field": "to", "type": "nominal", "bandPosition": 0.98}, "y": {"datum": 0, "type": "quantitative"}, "y2": {"datum": 0.2}}},
      {"transform": [{"filter": "datum.from != datum.to"}], "mark": {"type": "text", "fontSize": 12.5, "fontWeight": "bold", "baseline": "alphabetic"}, "encoding": {"x": {"field": "at", "type": "nominal", "bandPosition": 0}, "y": {"datum": 0.8, "type": "quantitative"}, "text": {"field": "grp"}}},
      {"transform": [{"filter": "datum.from == datum.to"}], "mark": {"type": "text", "fontSize": 12.5, "fontWeight": "bold", "baseline": "alphabetic"}, "encoding": {"x": {"field": "at", "type": "nominal", "bandPosition": 0.5}, "y": {"datum": 0.8, "type": "quantitative"}, "text": {"field": "grp"}}}
     ]}
   ],
   "resolve": {"scale": {"y": "independent"}}}
 ],
 "resolve": {"scale": {"x": "independent", "y": "independent"}}
 }]},
{"title": {"text": "D", "anchor": "start", "frame": "bounds", "fontSize": 16, "offset": -18, "dx": -20},
 "vconcat": [{
 "width": 229, "height": 124,
 "title": {"text": "UAS-bound myc-Gal11p", "anchor": "start", "dx": -17, "fontSize": 12},
 "layer": [
  {"layer": [
    {"data": {"name": "bars"}, "transform": [{"filter": "datum.p == 'D' && datum.g == 'ARG1'"}],
     "encoding": {"x": {"field": "c", "type": "nominal", "scale": {"domain": ["gcn4Δ","WT","gcn5Δ","ada1Δ","ada5Δ","spt7Δ","swi2Δ"], "paddingInner": 0, "paddingOuter": 0}, "axis": null},
                  "xOffset": {"field": "g", "type": "nominal", "scale": {"domain": ["ARG1","ARG4","SNZ1"], "paddingInner": 0, "paddingOuter": 0.75}}},
     "layer": [
      {"mark": {"type": "bar", "stroke": "black", "strokeWidth": 0.8, "opacity": 1},
       "encoding": {"y": {"field": "v", "type": "quantitative", "stack": null, "scale": {"domain": [0, 16.5], "nice": false}, "axis": {"orient": "left", "values": [0,3,6,9,12,15], "grid": true, "title": ["Ratio % IP (GCN4/gcn4Δ)", "ARG1"]}},
                    "fill": {"field": "g", "type": "nominal", "scale": {"domain": ["ARG1","ARG4","SNZ1"], "range": ["#c4c4c4","#686868","#ffffff"]}, "legend": {"orient": "none", "legendX": 118, "legendY": -12, "direction": "horizontal", "title": null, "columnPadding": 4}}}},
      {"transform": [{"filter": {"field": "lo", "valid": true}}], "mark": {"type": "rule", "color": "black", "strokeWidth": 0.8}, "encoding": {"y": {"field": "lo", "type": "quantitative"}, "y2": {"field": "hi"}}},
      {"transform": [{"filter": {"field": "lo", "valid": true}}], "mark": {"type": "tick", "color": "black", "thickness": 0.8, "size": 4, "opacity": 1}, "encoding": {"y": {"field": "lo", "type": "quantitative"}}},
      {"transform": [{"filter": {"field": "hi", "valid": true}}], "mark": {"type": "tick", "color": "black", "thickness": 0.8, "size": 4, "opacity": 1}, "encoding": {"y": {"field": "hi", "type": "quantitative"}}},
      {"transform": [{"filter": {"field": "brk", "valid": true}}], "mark": {"type": "point", "shape": "M -1 0.1 L 1 -0.5 L 1 0 L -1 0.6 Z", "filled": true, "fill": "white", "stroke": "black", "strokeWidth": 0.7, "size": 110, "opacity": 1}, "encoding": {"y": {"field": "brk", "type": "quantitative"}}},
      {"transform": [{"filter": {"field": "lab", "valid": true}}], "mark": {"type": "text", "angle": 90, "align": "right", "baseline": "middle", "dx": -3, "fontWeight": "bold", "fontSize": 11}, "encoding": {"y": {"field": "hi", "type": "quantitative"}, "text": {"field": "lab"}}}
     ]},
    {"data": {"name": "bars"}, "transform": [{"filter": "datum.p == 'D' && datum.g != 'ARG1'"}],
     "encoding": {"x": {"field": "c", "type": "nominal", "axis": null},
                  "xOffset": {"field": "g", "type": "nominal"}},
     "layer": [
      {"mark": {"type": "bar", "stroke": "black", "strokeWidth": 0.8, "opacity": 1},
       "encoding": {"y": {"field": "v", "type": "quantitative", "stack": null, "scale": {"domain": [0, 8.58], "nice": false}, "axis": {"orient": "right", "values": [0,1,2,3,4,5,6,7,8], "labelExpr": "datum.value % 2 == 0 ? datum.label : ''", "grid": false, "minExtent": 11, "maxExtent": 11, "titlePadding": 0, "titleLineHeight": 11, "titleFontSize": 10, "title": ["ARG4 and SNZ1", "Ratio % IP (GCN4/gcn4Δ)"]}},
                    "fill": {"field": "g", "type": "nominal"}}},
      {"transform": [{"filter": {"field": "lo", "valid": true}}], "mark": {"type": "rule", "color": "black", "strokeWidth": 0.8}, "encoding": {"y": {"field": "lo", "type": "quantitative"}, "y2": {"field": "hi"}}},
      {"transform": [{"filter": {"field": "lo", "valid": true}}], "mark": {"type": "tick", "color": "black", "thickness": 0.8, "size": 4, "opacity": 1}, "encoding": {"y": {"field": "lo", "type": "quantitative"}}},
      {"transform": [{"filter": {"field": "hi", "valid": true}}], "mark": {"type": "tick", "color": "black", "thickness": 0.8, "size": 4, "opacity": 1}, "encoding": {"y": {"field": "hi", "type": "quantitative"}}},
      {"transform": [{"filter": {"field": "brk", "valid": true}}], "mark": {"type": "point", "shape": "M -1 0.1 L 1 -0.5 L 1 0 L -1 0.6 Z", "filled": true, "fill": "white", "stroke": "black", "strokeWidth": 0.7, "size": 110, "opacity": 1}, "encoding": {"y": {"field": "brk", "type": "quantitative"}}},
      {"transform": [{"filter": {"field": "lab", "valid": true}}], "mark": {"type": "text", "angle": 90, "align": "right", "baseline": "middle", "dx": -3, "fontWeight": "bold", "fontSize": 11}, "encoding": {"y": {"field": "hi", "type": "quantitative"}, "text": {"field": "lab"}}}
     ]}
   ],
   "resolve": {"scale": {"y": "independent"}}},
  {"layer": [
    {"data": {"name": "table"}, "transform": [{"filter": "datum.p == 'D'"}],
     "encoding": {"x": {"field": "c", "type": "nominal", "scale": {"domain": ["_lab","gcn4Δ","WT","gcn5Δ","ada1Δ","ada5Δ","spt7Δ","swi2Δ"], "range": [-33, 229], "paddingInner": 0, "paddingOuter": 0}, "axis": null},
                  "y": {"field": "r", "type": "nominal", "scale": {"domain": ["hdr","ARG1","ARG4","SNZ1"], "range": [124, 174], "paddingInner": 0, "paddingOuter": 0}, "axis": null}},
     "layer": [
      {"mark": {"type": "rect", "fill": "white", "stroke": "black", "strokeWidth": 0.8}},
      {"mark": {"type": "text", "fontSize": 11, "color": "black", "fontStyle": {"expr": "datum.c == '_lab' || (datum.r == 'hdr' && datum.c != 'WT') ? 'italic' : 'normal'"}, "fontWeight": {"expr": "datum.c == '_lab' || datum.r == 'hdr' ? 'bold' : 'normal'"}}, "encoding": {"text": {"field": "t"}}}
     ]},
    {"data": {"name": "groups"}, "transform": [{"filter": "datum.p == 'D'"}],
     "layer": [
      {"mark": {"type": "rule", "color": "black", "strokeWidth": 1}, "encoding": {"x": {"field": "from", "type": "nominal", "bandPosition": 0.02}, "x2": {"field": "to", "bandPosition": 0.98}, "y": {"datum": 0.2, "type": "quantitative", "scale": {"domain": [0, 1], "range": [174, 194], "nice": false, "zero": false}, "axis": null}}},
      {"mark": {"type": "rule", "color": "black", "strokeWidth": 1}, "encoding": {"x": {"field": "from", "type": "nominal", "bandPosition": 0.02}, "y": {"datum": 0, "type": "quantitative"}, "y2": {"datum": 0.2}}},
      {"mark": {"type": "rule", "color": "black", "strokeWidth": 1}, "encoding": {"x": {"field": "to", "type": "nominal", "bandPosition": 0.98}, "y": {"datum": 0, "type": "quantitative"}, "y2": {"datum": 0.2}}},
      {"transform": [{"filter": "datum.from != datum.to"}], "mark": {"type": "text", "fontSize": 12.5, "fontWeight": "bold", "baseline": "alphabetic"}, "encoding": {"x": {"field": "at", "type": "nominal", "bandPosition": 0}, "y": {"datum": 0.8, "type": "quantitative"}, "text": {"field": "grp"}}},
      {"transform": [{"filter": "datum.from == datum.to"}], "mark": {"type": "text", "fontSize": 12.5, "fontWeight": "bold", "baseline": "alphabetic"}, "encoding": {"x": {"field": "at", "type": "nominal", "bandPosition": 0.5}, "y": {"datum": 0.8, "type": "quantitative"}, "text": {"field": "grp"}}}
     ]}
   ],
   "resolve": {"scale": {"y": "independent"}}}
 ],
 "resolve": {"scale": {"x": "independent", "y": "independent"}}
 }]}
]}
]
}
